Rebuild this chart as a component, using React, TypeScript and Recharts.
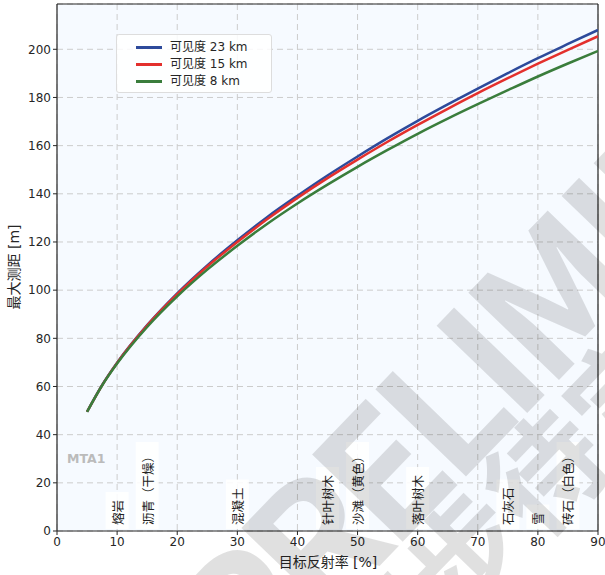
import React from 'react';
import { LineChart, Line, XAxis, YAxis, CartesianGrid, ReferenceLine, ReferenceDot } from 'recharts';

// ---- data ----
const reflectivity = [5, 7.5, 10, 15, 20, 25, 30, 35, 40, 45, 50, 55, 60, 65, 70, 75, 80, 85, 90];
const range23km = [49.5, 60.6, 69.9, 85.5, 98.7, 110.3, 120.7, 130.4, 139.2, 147.6, 155.5, 163.1, 170.3, 177.1, 183.7, 190.1, 196.3, 202.2, 208.0];
const range15km = [49.5, 60.5, 69.8, 85.3, 98.3, 109.8, 120.0, 129.5, 138.3, 146.5, 154.2, 161.6, 168.6, 175.3, 181.8, 188.0, 194.0, 199.8, 205.4];
const range8km = [49.5, 60.4, 69.5, 84.7, 97.4, 108.5, 118.4, 127.6, 136.0, 143.8, 151.2, 158.2, 164.9, 171.2, 177.2, 183.0, 188.7, 194.1, 199.3];

const seriesKeys = ['v23', 'v15', 'v8'];
const seriesNames = ['可见度 23 km', '可见度 15 km', '可见度 8 km'];
const seriesColors = ['#2d4a9b', '#e3302d', '#3a7d3c'];

const materialNames = ['熔岩', '沥青（干燥）', '混凝土', '针叶树木', '沙滩（黄色）', '落叶树木', '石灰石', '雪', '砖石（白色）'];
const materialReflect = [10, 15, 30, 45, 50, 60, 75, 80, 85];

const xTicks = [0, 10, 20, 30, 40, 50, 60, 70, 80, 90];
const yTicks = [0, 20, 40, 60, 80, 100, 120, 140, 160, 180, 200];
const xMax = 90;
const yMax = 218.8;

const watermarkLatin = 'PRELIMINARY';
const watermarkCjk = '初步待定';

const data = reflectivity.map((x, i) => ({ x, v23: range23km[i], v15: range15km[i], v8: range8km[i] }));

const W = 605;
const H = 575;
const tickStyle = { fontFamily: 'DejaVu Sans, sans-serif', fontSize: 12, fill: '#262626' };
const AXIS = '#262626';

const charLen = 12.5;

const MaterialLabel = (name: string) => (props: any) => {
  const { cx, cy } = props;
  if (cx == null || cy == null) return null;
  const n = Array.from(name).length;
  const len = n * charLen;
  const start = cy - 6;
  const top = start - len - 8;
  return (
    <g>
      <rect x={cx - 11.5} y={top} width={23} height={cy - 2 - top} fill="#ffffff" fillOpacity={0.88} />
      <text
        x={cx}
        y={start}
        transform={`rotate(-90 ${cx} ${start})`}
        textAnchor="start"
        dominantBaseline="central"
        fontFamily="Noto Sans CJK SC, sans-serif"
        fontSize={12.5}
        fill="#222"
      >
        {name}
      </text>
    </g>
  );
};

// watermark geometry (decorative, not data)
const WM_ANGLE = -46;
const WM_SPACING = 158;
const WM_F = 170;
const rad = (WM_ANGLE * Math.PI) / 180;
const ux = Math.cos(rad);
const uy = Math.sin(rad);
const dx = -uy; // "down" perpendicular
const dy = ux;
const anchorX = 536;
const anchorY = 404;
const latinWidths: Record<string, number> = { P: 0.63, R: 0.65, E: 0.57, L: 0.54, I: 0.31, M: 0.83, N: 0.72, A: 0.66, Y: 0.6 };

function latinCenters(): number[] {
  const chars = Array.from(watermarkLatin);
  const centers: number[] = [];
  let acc = 0;
  chars.forEach((c) => {
    const w = latinWidths[c] ?? 0.6;
    centers.push(acc + w / 2);
    acc += w;
  });
  const ref = centers[4];
  return centers.map((c) => (c - ref) * WM_SPACING);
}

const Watermark = () => {
  const centers = latinCenters();
  const chars = Array.from(watermarkLatin);
  const cjkF = 115;
  const cjkStart = -330;
  const cjkDown = 98;
  const sx = anchorX + cjkStart * ux + cjkDown * dx;
  const sy = anchorY + cjkStart * uy + cjkDown * dy;
  return (
    <g fill="#000" fillOpacity={0.12} fontFamily="Noto Sans CJK SC, sans-serif" fontWeight="bold">
      {chars.map((c, i) => {
        const x = anchorX + centers[i] * ux;
        const y = anchorY + centers[i] * uy;
        return (
          <text key={i} x={x} y={y} transform={`rotate(${WM_ANGLE} ${x} ${y})`} textAnchor="middle" fontSize={WM_F}>
            {c}
          </text>
        );
      })}
      <text x={sx} y={sy} transform={`rotate(${WM_ANGLE} ${sx} ${sy})`} fontSize={cjkF}>
        {watermarkCjk}
      </text>
    </g>
  );
};

export default function App() {
  return (
    <div style={{ position: 'absolute', left: 0, top: 0, width: W, height: H, background: '#fff', overflow: 'hidden' }}>
      <LineChart width={W} height={H} data={data} margin={{ top: 4, right: 7, bottom: 0, left: 0 }}>
        <CartesianGrid fill="#f6faff" stroke="#cccccc" strokeDasharray="6 4" strokeWidth={1} />
        <XAxis
          type="number"
          dataKey="x"
          domain={[0, xMax]}
          ticks={xTicks}
          height={44}
          tick={tickStyle}
          tickSize={4}
          axisLine={{ stroke: AXIS, strokeWidth: 1.2 }}
          tickLine={{ stroke: AXIS }}
          allowDataOverflow
        />
        <YAxis
          type="number"
          domain={[0, yMax]}
          ticks={yTicks}
          width={57}
          tick={tickStyle}
          tickSize={4}
          axisLine={{ stroke: AXIS, strokeWidth: 1.2 }}
          tickLine={{ stroke: AXIS }}
          allowDataOverflow
        />
        <ReferenceLine y={yMax} stroke={AXIS} strokeWidth={1.2} />
        <ReferenceLine x={xMax} stroke={AXIS} strokeWidth={1.2} />
        {materialNames.map((name, i) => (
          <ReferenceDot key={name} x={materialReflect[i]} y={0} r={0} shape={MaterialLabel(name)} />
        ))}
        {seriesKeys.map((k, i) => (
          <Line
            key={k}
            type="monotone"
            dataKey={k}
            name={seriesNames[i]}
            stroke={seriesColors[i]}
            strokeWidth={2.5}
            dot={false}
            isAnimationActive={false}
          />
        ))}
      </LineChart>

      {/* legend */}
      <div
        style={{
          position: 'absolute',
          left: 116,
          top: 34,
          width: 154,
          height: 57,
          background: 'rgba(255,255,255,0.85)',
          border: '1px solid #dddddd',
          borderRadius: 3,
        }}
      >
        {seriesNames.map((name, i) => (
          <div key={name} style={{ position: 'absolute', left: 0, top: 4 + i * 17, height: 17, width: 154 }}>
            <div style={{ position: 'absolute', left: 19, top: 7, width: 26, height: 2.5, background: seriesColors[i] }} />
            <div
              style={{
                position: 'absolute',
                left: 53,
                top: 0,
                lineHeight: '17px',
                fontSize: 12,
                fontFamily: 'DejaVu Sans, Noto Sans CJK SC, sans-serif',
                color: '#262626',
                whiteSpace: 'nowrap',
              }}
            >
              {name}
            </div>
          </div>
        ))}
      </div>

      {/* titles, tag, watermark */}
      <svg width={W} height={H} style={{ position: 'absolute', left: 0, top: 0, pointerEvents: 'none' }}>
        <text x={328} y={567} textAnchor="middle" fontFamily="DejaVu Sans, Noto Sans CJK SC, sans-serif" fontSize={14} fill="#262626">
          目标反射率 [%]
        </text>
        <text
          x={19}
          y={267}
          transform="rotate(-90 19 267)"
          textAnchor="middle"
          fontFamily="DejaVu Sans, Noto Sans CJK SC, sans-serif"
          fontSize={14}
          fill="#262626"
        >
          最大测距 [m]
        </text>
        <text x={67} y={463} fontFamily="DejaVu Sans, sans-serif" fontWeight="bold" fontSize={12.5} fill="#bbbbbb">
          MTA1
        </text>
        <Watermark />
      </svg>
    </div>
  );
}
